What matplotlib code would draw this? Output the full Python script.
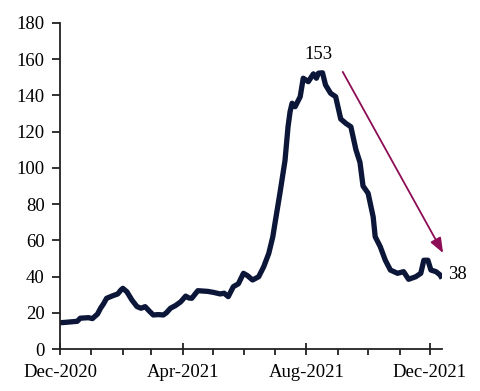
import matplotlib
matplotlib.use("Agg")
import matplotlib.pyplot as plt
import matplotlib.dates as mdates
import pandas as pd

dates = ["2020-12-01","2020-12-08","2020-12-14","2020-12-18","2020-12-21","2020-12-29",
         "2021-01-02","2021-01-07","2021-01-10","2021-01-13","2021-01-16","2021-01-22",
         "2021-01-27","2021-01-30","2021-02-01","2021-02-05","2021-02-10","2021-02-15",
         "2021-02-19","2021-02-23","2021-02-27","2021-03-03","2021-03-08","2021-03-13",
         "2021-03-16","2021-03-20","2021-03-25","2021-03-30","2021-04-04","2021-04-07",
         "2021-04-10","2021-04-16","2021-04-21","2021-04-26","2021-05-02","2021-05-08",
         "2021-05-12","2021-05-16","2021-05-21","2021-05-26","2021-05-31","2021-06-04",
         "2021-06-09","2021-06-15","2021-06-20","2021-06-25","2021-06-29","2021-07-01",
         "2021-07-06","2021-07-11","2021-07-14","2021-07-16","2021-07-18","2021-07-21",
         "2021-07-26","2021-07-29","2021-08-03","2021-08-08","2021-08-11","2021-08-13",
         "2021-08-17","2021-08-20","2021-08-25","2021-08-30","2021-09-04","2021-09-09",
         "2021-09-14","2021-09-19","2021-09-23","2021-09-26","2021-10-01","2021-10-06",
         "2021-10-08","2021-10-13","2021-10-18","2021-10-23","2021-10-30","2021-11-05",
         "2021-11-10","2021-11-17","2021-11-22","2021-11-25","2021-11-29","2021-12-02",
         "2021-12-07","2021-12-11","2021-12-13"]
values = [14.5,14.8,15.1,15.3,17.0,17.3,
          16.8,19.3,22.5,25.0,28.0,29.4,
          30.4,32.5,33.5,31.6,27.0,23.4,
          22.5,23.4,21.0,18.8,19.0,18.8,
          20.0,22.5,24.0,26.0,29.2,28.2,
          28.0,32.2,32.0,31.8,31.2,30.4,
          30.8,28.9,34.4,36.0,41.8,40.5,
          38.1,39.9,45.4,52.8,62.0,69.0,
          86.0,104.0,122.7,131.0,135.7,133.8,
          139.3,149.5,147.6,151.9,149.5,152.3,
          152.5,145.8,141.2,139.3,127.0,124.6,
          122.7,110.0,103.0,90.0,86.0,73.0,
          62.0,56.5,49.0,43.6,41.8,42.7,
          38.5,39.9,41.8,49.0,49.0,43.6,
          42.7,40.9,39.0]
peak_label = "153"
last_label = "38"
tick_dates = ["2020-12-01", "2021-04-01", "2021-08-01", "2021-12-01"]
tick_labels = ["Dec-2020", "Apr-2021", "Aug-2021", "Dec-2021"]

x = pd.to_datetime(dates)

plt.rcParams['font.family'] = ['Liberation Serif', 'DejaVu Serif']
FS = 13.5

fig = plt.figure(figsize=(4.8, 3.91), dpi=100)
ax = fig.add_axes([0.125, 0.1074, 0.796, 0.8338])

ax.plot(x, values, color='#0b1638', lw=3.8, solid_joinstyle='round', solid_capstyle='butt')

ax.set_ylim(0, 180)
ax.set_yticks(range(0, 181, 20))
ax.set_xlim(pd.Timestamp("2020-12-01"), pd.Timestamp("2021-12-13"))
ax.set_xticks(pd.to_datetime(tick_dates))
ax.set_xticklabels(tick_labels)
ax.xaxis.set_minor_locator(mdates.MonthLocator())

for s in ['top', 'right']:
    ax.spines[s].set_visible(False)
for s in ['left', 'bottom']:
    ax.spines[s].set_linewidth(1.3)
    ax.spines[s].set_color('#222222')

ax.tick_params(axis='y', direction='out', length=6, width=1.3, labelsize=FS, pad=5, colors='#222222', labelcolor='black')
ax.tick_params(axis='x', which='major', direction='inout', length=9, width=1.3, labelsize=FS, pad=6, colors='#222222', labelcolor='black')
ax.tick_params(axis='x', which='minor', direction='out', length=4, width=1.3, colors='#222222')

ax.annotate("", xy=(pd.Timestamp("2021-12-14"), 53), xytext=(pd.Timestamp("2021-09-06"), 153),
            arrowprops=dict(arrowstyle='-|>,head_length=0.9,head_width=0.35', color='#8c0d55', lw=1.3,
                            shrinkA=0, shrinkB=0), annotation_clip=False)
ax.text(pd.Timestamp("2021-08-13"), 158, peak_label, ha='center', va='bottom', fontsize=FS)
ax.text(pd.Timestamp("2021-12-19"), 41, last_label, ha='left', va='center', fontsize=FS, clip_on=False)

fig.savefig("out.png", dpi=100)
